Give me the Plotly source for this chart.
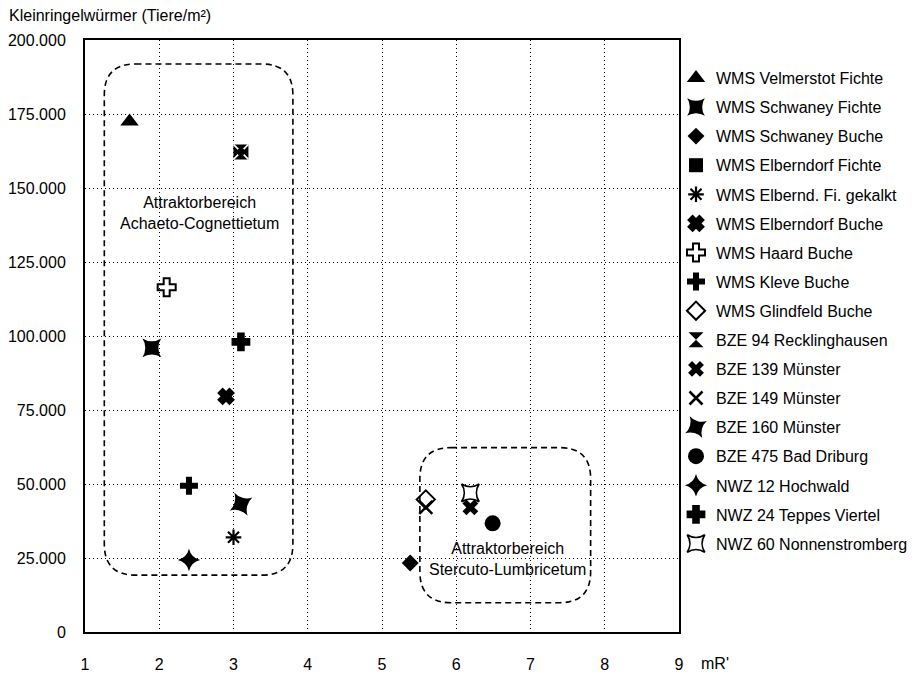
import plotly.graph_objects as go

# ---------------- data ----------------
series_names = [
    "WMS Velmerstot Fichte", "WMS Schwaney Fichte", "WMS Schwaney Buche",
    "WMS Elberndorf Fichte", "WMS Elbernd. Fi. gekalkt", "WMS Elberndorf Buche",
    "WMS Haard Buche", "WMS Kleve Buche", "WMS Glindfeld Buche",
    "BZE 94 Recklinghausen", "BZE 139 Münster", "BZE 149 Münster",
    "BZE 160 Münster", "BZE 475 Bad Driburg", "NWZ 12 Hochwald",
    "NWZ 24 Teppes Viertel", "NWZ 60 Nonnenstromberg",
]
mR_values = [1.6, 1.9, 5.38, None, 3.0, 2.9, 2.1, 2.4, 5.59,
             3.1, 6.19, 5.59, 3.1, 6.49, 2.4, 3.1, 6.19]
worms_per_m2 = [172500, 96000, 23300, None, 32000, 79600, 116500, 49400, 44800,
                162200, 42100, 42100, 43200, 36700, 24300, 98000, 47000]

y_tick_values = [0, 25000, 50000, 75000, 100000, 125000, 150000, 175000, 200000]
y_tick_labels = ["0", "25.000", "50.000", "75.000", "100.000", "125.000",
                 "150.000", "175.000", "200.000"]
x_tick_values = [1, 2, 3, 4, 5, 6, 7, 8, 9]

# attractor regions: (x0, x1, y0, y1)
region_achaeto = (1.26, 3.80, 19200, 191900)
region_stercuto = (5.51, 7.81, 9900, 62300)
label_achaeto = (2.54, 141700, "Attraktorbereich<br>Achaeto-Cognettietum")
label_stercuto = (6.69, 24700, "Attraktorbereich<br>Stercuto-Lumbricetum")

# ---------------- styles ----------------
BLACK = "black"
FONT = "Arial, Liberation Sans, sans-serif"
styles = {
    "WMS Velmerstot Fichte": dict(symbol="triangle-up", size=16),
    "WMS Schwaney Fichte": dict(symbol="star-square", size=17),
    "WMS Schwaney Buche": dict(symbol="diamond", size=13),
    "WMS Elberndorf Fichte": dict(symbol="square", size=14),
    "WMS Elbernd. Fi. gekalkt": dict(symbol="asterisk-open", size=13, line=dict(width=2.2, color=BLACK)),
    "WMS Elberndorf Buche": dict(symbol="x", size=12, line=dict(width=3, color=BLACK)),
    "WMS Haard Buche": dict(symbol="cross-open", size=15, line=dict(width=2, color=BLACK)),
    "WMS Kleve Buche": dict(symbol="cross", size=15),
    "WMS Glindfeld Buche": dict(symbol="diamond-open", size=14, line=dict(width=2, color=BLACK)),
    "BZE 94 Recklinghausen": dict(symbol="hourglass", size=15),
    "BZE 139 Münster": dict(symbol="x", size=14),
    "BZE 149 Münster": dict(symbol="x-thin-open", size=13, line=dict(width=2.5, color=BLACK)),
    "BZE 160 Münster": dict(symbol="star-square", size=17, angle=15),
    "BZE 475 Bad Driburg": dict(symbol="circle", size=16),
    "NWZ 12 Hochwald": dict(symbol="star-diamond", size=16),
    "NWZ 24 Teppes Viertel": dict(symbol="cross", size=14, line=dict(width=2, color=BLACK)),
    "NWZ 60 Nonnenstromberg": dict(symbol="star-square-open", size=16, line=dict(width=1.8, color=BLACK)),
}

fig = go.Figure()
for name, xv, yv in zip(series_names, mR_values, worms_per_m2):
    st = dict(styles[name])
    mk = dict(color=BLACK, symbol=st["symbol"], size=st["size"],
              line=st.get("line", dict(width=0, color=BLACK)))
    if "angle" in st:
        mk["angle"] = st["angle"]
    fig.add_trace(go.Scatter(x=[xv], y=[yv], mode="markers", name=name,
                             legendgroup=name, marker=mk, hoverinfo="name+x+y"))
    if name == "BZE 94 Recklinghausen":
        # extra layers giving the Maltese-cross look
        extra = [
            dict(color=BLACK, symbol="bowtie", size=15, line=dict(width=0)),
            dict(color="white", symbol="x-thin-open", size=15, line=dict(width=1.6, color="white")),
            dict(color=BLACK, symbol="square", size=6, line=dict(width=0)),
        ]
        for m in extra:
            fig.add_trace(go.Scatter(x=[xv], y=[yv], mode="markers", name=name,
                                     legendgroup=name, showlegend=False,
                                     marker=m, hoverinfo="skip"))


def rounded_path(x0, x1, y0, y1, rx, ry):
    return (f"M {x0 + rx},{y1} L {x1 - rx},{y1} Q {x1},{y1} {x1},{y1 - ry} "
            f"L {x1},{y0 + ry} Q {x1},{y0} {x1 - rx},{y0} "
            f"L {x0 + rx},{y0} Q {x0},{y0} {x0},{y0 + ry} "
            f"L {x0},{y1 - ry} Q {x0},{y1} {x0 + rx},{y1} Z")


shapes = []
for (x0, x1, y0, y1) in (region_achaeto, region_stercuto):
    shapes.append(dict(type="path", xref="x", yref="y",
                       path=rounded_path(x0, x1, y0, y1, 0.42, 10500),
                       line=dict(color=BLACK, width=1.6, dash="6px,4px"),
                       fillcolor="rgba(0,0,0,0)", layer="above"))

annotations = []
for (ax, ay, txt) in (label_achaeto, label_stercuto):
    annotations.append(dict(x=ax, y=ay, xref="x", yref="y", text=txt,
                            showarrow=False, font=dict(size=16, color=BLACK, family=FONT),
                            align="center"))

# plot box in page pixels; the page body has an 8px default margin
BODY = 8
PLOT_L, PLOT_R, PLOT_T, PLOT_B = 85, 679, 40, 632
FIG_W, FIG_H = 921 - BODY, 674 - BODY


def px_to_paper(px, py):
    return (px - PLOT_L) / (PLOT_R - PLOT_L), (PLOT_B - py) / (PLOT_B - PLOT_T)


tx, ty = px_to_paper(7, 16)
annotations.append(dict(x=tx, y=ty, xref="paper", yref="paper", xanchor="left",
                        yanchor="middle", text="Kleinringelwürmer (Tiere/m²)",
                        showarrow=False, font=dict(size=16, color=BLACK, family=FONT)))
mx, my = px_to_paper(699, 664)
annotations.append(dict(x=mx, y=my, xref="paper", yref="paper", xanchor="left",
                        yanchor="middle", text="mR'", showarrow=False,
                        font=dict(size=16, color=BLACK, family=FONT)))

lx, ly = px_to_paper(676, 61)
fig.update_layout(
    width=FIG_W, height=FIG_H,
    margin=dict(l=PLOT_L - BODY, r=FIG_W - (PLOT_R - BODY), t=PLOT_T - BODY,
                b=FIG_H - (PLOT_B - BODY), autoexpand=False),
    paper_bgcolor="white", plot_bgcolor="white",
    font=dict(family=FONT, size=16, color=BLACK),
    shapes=shapes,
    annotations=annotations,
    showlegend=True,
    legend=dict(x=lx, xanchor="left", y=ly, yanchor="top",
                font=dict(size=16, color=BLACK, family=FONT),
                tracegroupgap=5.3, bgcolor="rgba(0,0,0,0)", borderwidth=0),
)
fig.update_xaxes(range=[1, 9], tickvals=x_tick_values, ticktext=[str(v) for v in x_tick_values],
                 showgrid=True, gridcolor=BLACK, griddash="1px,3px", gridwidth=1,
                 showline=True, linecolor=BLACK, linewidth=2, mirror=True,
                 ticks="", ticklabelstandoff=17, zeroline=False, automargin=False,
                 tickfont=dict(size=16, color=BLACK, family=FONT))
fig.update_yaxes(range=[0, 200000], tickvals=y_tick_values, ticktext=y_tick_labels,
                 showgrid=True, gridcolor=BLACK, griddash="1px,3px", gridwidth=1,
                 showline=True, linecolor=BLACK, linewidth=2, mirror=True,
                 ticks="", ticklabelstandoff=14, zeroline=False, automargin=False,
                 tickfont=dict(size=16, color=BLACK, family=FONT))

fig.write_html("out.html")
